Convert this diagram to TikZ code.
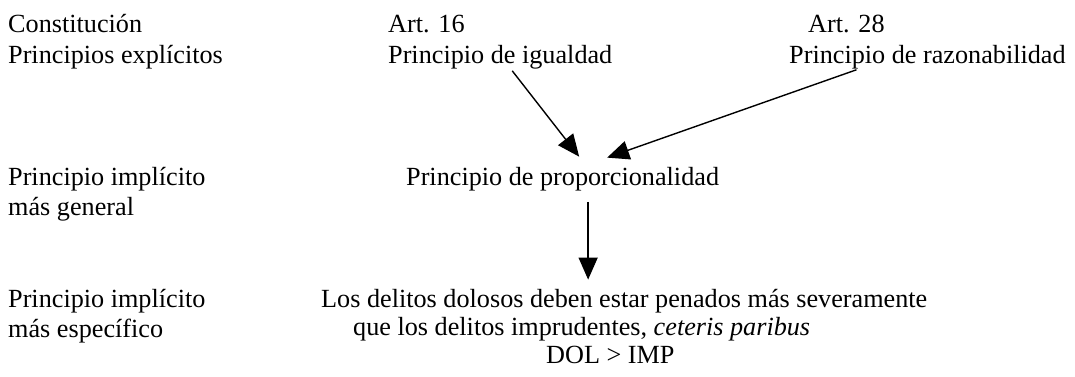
\documentclass[tikz,border=0pt]{standalone}
\usepackage{fontspec}
\setmainfont{Liberation Serif}
\usetikzlibrary{arrows.meta}
\begin{document}
\begin{tikzpicture}[x=1pt,y=-1pt,
  txt/.style={anchor=base west,inner sep=0pt,font=\fontsize{26.2}{30}\selectfont},
  arr/.style={line width=1.4pt,-{Triangle[length=22pt,width=19pt]}}]
\useasboundingbox (0,0) rectangle (1075,376);
% left column
\node[txt] (const) at (8,32) {Constitución};
\node[txt] (expl) at (8,63) {Principios explícitos};
\node[txt] (impl1) at (8,185) {Principio implícito};
\node[txt] (gen) at (8,215) {más general};
\node[txt] (impl2) at (8,307) {Principio implícito};
\node[txt] (espec) at (8,337) {más específico};
% explicit principles
\node[txt] (art16) at (388,32) {Art. 16};
\node[txt] (igual) at (388,63) {Principio de igualdad};
\node[txt] (art28) at (808,32) {Art. 28};
\node[txt] (razon) at (789,63) {Principio de razonabilidad};
% implicit principles
\node[txt] (prop) at (406,185) {Principio de proporcionalidad};
\node[txt] (delitos) at (321,307) {Los delitos dolosos deben estar penados más severamente};
\node[txt] (que) at (353,335) {que los delitos imprudentes, \textit{ceteris paribus}};
\node[txt] (dol) at (546,363) {DOL > IMP};
% arrows
\draw[arr] ([xshift=12pt,yshift=-2pt]igual.south) -- ([xshift=16.5pt,yshift=10pt]prop.north);
\draw[arr] ([xshift=-71pt,yshift=-1pt]razon.south) -- ([xshift=44.5pt,yshift=9pt]prop.north);
\draw[arr] ([xshift=25.5pt,yshift=-11pt]prop.south) -- ([xshift=25.5pt,yshift=9pt]prop.south |- delitos.north);
\end{tikzpicture}
\end{document}
